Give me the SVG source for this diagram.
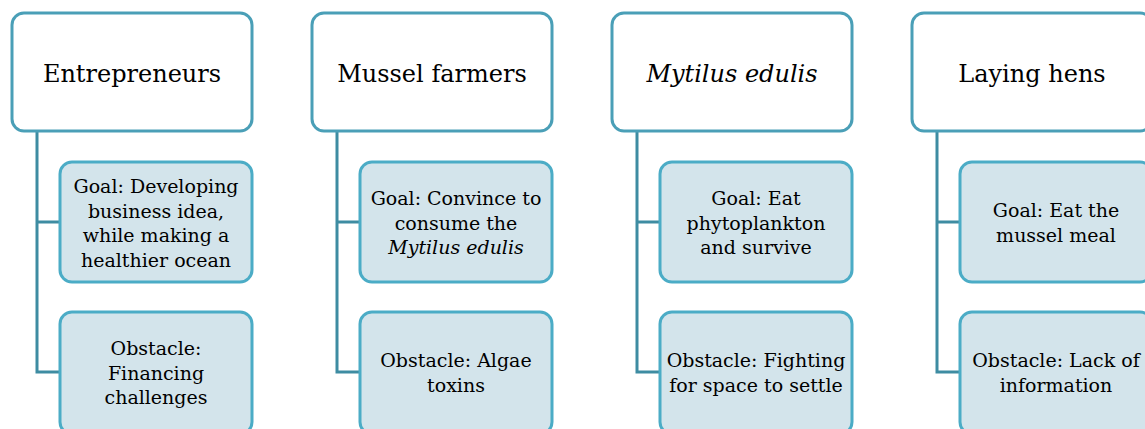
<svg xmlns="http://www.w3.org/2000/svg" width="1145" height="429" viewBox="0 0 1145 429">
<style>
.top{fill:#ffffff;stroke:#4a9fb7;stroke-width:3}
.sub{fill:#d3e4eb;stroke:#4bacc6;stroke-width:3}
.conn{fill:none;stroke:#3e8ca2;stroke-width:3}
.t{font-size:24px}
.s{font-size:19px}
.i{font-style:italic}
</style>
<rect width="1145" height="429" fill="#ffffff"/>
<g id="connectors">
<path class="conn" d="M37,131V372H60M37,222H60"/>
<path class="conn" d="M337,131V372H360M337,222H360"/>
<path class="conn" d="M637,131V372H660M637,222H660"/>
<path class="conn" d="M937,131V372H960M937,222H960"/>
</g>
<g text-anchor="middle" fill="#000000" font-family="'DejaVu Serif', 'Noto Serif', serif">
<g id="entrepreneurs"><rect class="top" x="12" y="13" width="240" height="118" rx="12"/><text class="t" x="132" y="82">Entrepreneurs</text></g>
<g id="entrepreneurs-goal"><rect class="sub" x="60" y="162" width="192" height="120" rx="12"/><text class="s" x="156" y="193">Goal: Developing</text><text class="s" x="156" y="217.5">business idea,</text><text class="s" x="156" y="242">while making a</text><text class="s" x="156" y="266.5">healthier ocean</text></g>
<g id="entrepreneurs-obstacle"><rect class="sub" x="60" y="312" width="192" height="122" rx="12"/><text class="s" x="156" y="355">Obstacle:</text><text class="s" x="156" y="379.5">Financing</text><text class="s" x="156" y="404">challenges</text></g>

<g id="mussel-farmers"><rect class="top" x="312" y="13" width="240" height="118" rx="12"/><text class="t" x="432" y="82">Mussel farmers</text></g>
<g id="mussel-farmers-goal"><rect class="sub" x="360" y="162" width="192" height="120" rx="12"/><text class="s" x="456" y="205">Goal: Convince to</text><text class="s" x="456" y="229.5">consume the</text><text class="s i" x="456" y="254">Mytilus edulis</text></g>
<g id="mussel-farmers-obstacle"><rect class="sub" x="360" y="312" width="192" height="122" rx="12"/><text class="s" x="456" y="367">Obstacle: Algae</text><text class="s" x="456" y="391.5">toxins</text></g>

<g id="mytilus-edulis"><rect class="top" x="612" y="13" width="240" height="118" rx="12"/><text class="t i" x="732" y="82">Mytilus edulis</text></g>
<g id="mytilus-goal"><rect class="sub" x="660" y="162" width="192" height="120" rx="12"/><text class="s" x="756" y="205">Goal: Eat</text><text class="s" x="756" y="229.5">phytoplankton</text><text class="s" x="756" y="254">and survive</text></g>
<g id="mytilus-obstacle"><rect class="sub" x="660" y="312" width="192" height="122" rx="12"/><text class="s" x="756" y="367">Obstacle: Fighting</text><text class="s" x="756" y="391.5">for space to settle</text></g>

<g id="laying-hens"><rect class="top" x="912" y="13" width="240" height="118" rx="12"/><text class="t" x="1032" y="82">Laying hens</text></g>
<g id="laying-hens-goal"><rect class="sub" x="960" y="162" width="192" height="120" rx="12"/><text class="s" x="1056" y="217">Goal: Eat the</text><text class="s" x="1056" y="241.5">mussel meal</text></g>
<g id="laying-hens-obstacle"><rect class="sub" x="960" y="312" width="192" height="122" rx="12"/><text class="s" x="1056" y="367">Obstacle: Lack of</text><text class="s" x="1056" y="391.5">information</text></g>
</g>
</svg>
